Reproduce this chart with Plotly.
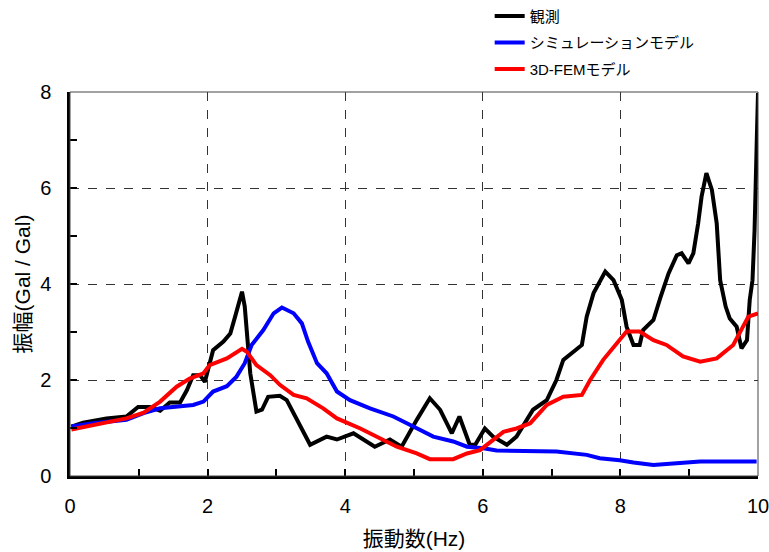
import plotly.graph_objects as go

# 観測 (observed)
obs_x = [0.02, 0.19, 0.53, 0.82, 0.99, 1.16, 1.31, 1.45, 1.60, 1.70, 1.79, 1.89, 1.96, 2.08, 2.23, 2.33, 2.40, 2.50, 2.54, 2.62, 2.71, 2.79, 2.88, 3.05, 3.15, 3.30, 3.49, 3.73, 3.88, 4.12, 4.43, 4.65, 4.82, 5.04, 5.23, 5.38, 5.55, 5.66, 5.81, 5.89, 6.03, 6.15, 6.35, 6.49, 6.64, 6.73, 6.93, 7.07, 7.17, 7.44, 7.51, 7.61, 7.78, 7.90, 8.02, 8.09, 8.19, 8.28, 8.33, 8.48, 8.58, 8.70, 8.82, 8.89, 8.99, 9.06, 9.13, 9.18, 9.25, 9.33, 9.40, 9.45, 9.53, 9.59, 9.69, 9.76, 9.84, 9.88, 9.92, 9.95, 9.98, 10.0]
obs_y = [1.03, 1.11, 1.20, 1.24, 1.44, 1.44, 1.36, 1.53, 1.53, 1.79, 2.10, 2.10, 1.96, 2.62, 2.80, 2.97, 3.32, 3.84, 3.53, 2.14, 1.34, 1.38, 1.65, 1.67, 1.58, 1.17, 0.65, 0.82, 0.76, 0.89, 0.61, 0.76, 0.61, 1.17, 1.62, 1.38, 0.89, 1.24, 0.65, 0.65, 0.99, 0.82, 0.65, 0.82, 1.17, 1.38, 1.58, 2.00, 2.42, 2.73, 3.32, 3.81, 4.26, 4.08, 3.67, 3.11, 2.73, 2.73, 3.04, 3.25, 3.71, 4.22, 4.60, 4.64, 4.43, 4.64, 5.26, 5.82, 6.31, 5.96, 5.26, 4.08, 3.53, 3.28, 3.11, 2.66, 2.83, 3.67, 4.08, 5.12, 6.86, 7.98]

# シミュレーションモデル (simulation)
sim_x = [0.02, 0.34, 0.82, 1.07, 1.31, 1.60, 1.79, 1.94, 2.08, 2.28, 2.42, 2.54, 2.64, 2.81, 2.96, 3.08, 3.25, 3.37, 3.46, 3.59, 3.73, 3.88, 4.07, 4.36, 4.70, 4.99, 5.28, 5.57, 5.77, 6.01, 6.20, 7.07, 7.51, 7.70, 7.99, 8.19, 8.48, 8.67, 9.16, 9.98]
sim_y = [1.03, 1.10, 1.17, 1.31, 1.41, 1.46, 1.48, 1.55, 1.76, 1.87, 2.07, 2.35, 2.73, 3.04, 3.39, 3.51, 3.39, 3.18, 2.80, 2.35, 2.14, 1.76, 1.58, 1.41, 1.24, 1.03, 0.82, 0.72, 0.61, 0.58, 0.53, 0.51, 0.44, 0.37, 0.33, 0.28, 0.23, 0.25, 0.30, 0.30]

# 3D-FEMモデル
fem_x = [0.02, 0.34, 0.82, 1.07, 1.31, 1.55, 1.74, 1.94, 2.03, 2.28, 2.50, 2.57, 2.71, 2.91, 3.05, 3.25, 3.44, 3.68, 3.88, 4.22, 4.51, 4.75, 5.04, 5.23, 5.57, 5.77, 5.96, 6.15, 6.30, 6.49, 6.69, 6.93, 7.17, 7.44, 7.56, 7.75, 7.90, 8.09, 8.28, 8.48, 8.67, 8.91, 9.16, 9.40, 9.64, 9.79, 9.86, 10.0]
fem_y = [0.97, 1.06, 1.20, 1.32, 1.55, 1.86, 2.03, 2.14, 2.31, 2.45, 2.65, 2.59, 2.31, 2.10, 1.90, 1.69, 1.62, 1.41, 1.20, 0.99, 0.78, 0.61, 0.47, 0.35, 0.35, 0.47, 0.54, 0.75, 0.92, 0.99, 1.10, 1.48, 1.65, 1.69, 2.00, 2.42, 2.69, 3.01, 3.01, 2.83, 2.73, 2.49, 2.38, 2.45, 2.73, 3.11, 3.32, 3.39]

FONT = "Liberation Sans, Arial, Noto Sans CJK JP, sans-serif"

fig = go.Figure()
fig.add_trace(go.Scatter(x=obs_x, y=obs_y, mode="lines", name="観測",
                         line=dict(color="black", width=4), legendgroup="a"))
fig.add_trace(go.Scatter(x=sim_x, y=sim_y, mode="lines", name="シミュレーションモデル",
                         line=dict(color="#0000ff", width=4), legendgroup="b"))
fig.add_trace(go.Scatter(x=fem_x, y=fem_y, mode="lines", name="3D-FEMモデル",
                         line=dict(color="#ff0000", width=4), legendgroup="c"))

axis_common = dict(
    showline=True, linecolor="black", linewidth=2.5,
    ticks="inside", ticklen=7, tickwidth=1.5, tickcolor="black",
    showgrid=True, gridcolor="#333333", griddash="dash", gridwidth=1,
    zeroline=False, automargin=False, ticklabeloverflow="allow",
    tickfont=dict(size=20, color="black", family=FONT),
    minor=dict(ticks="inside", ticklen=7, tickwidth=1.5, tickcolor="black", dtick=1, showgrid=False),
)

fig.update_xaxes(range=[0, 10], dtick=2, ticklabelstandoff=10,
                 title=dict(text="振動数(Hz)", font=dict(size=21, family=FONT), standoff=16), **axis_common)
fig.update_yaxes(range=[0, 8], dtick=2, ticklabelstandoff=12,
                 title=dict(text="振幅(Gal / Gal)", font=dict(size=21, family=FONT), standoff=4), **axis_common)

fig.add_shape(type="rect", xref="paper", yref="paper", x0=0, y0=0, x1=1, y1=1,
              line=dict(color="#444444", width=1), layer="above")

fig.update_layout(
    width=769, height=552,
    margin=dict(l=70, r=11, t=92, b=76, autoexpand=False),
    plot_bgcolor="white", paper_bgcolor="white",
    font=dict(family=FONT, color="black"),
    showlegend=True,
    legend=dict(x=0.61, y=1.24, xanchor="left", yanchor="top",
                font=dict(size=15, family=FONT), tracegroupgap=4,
                bgcolor="rgba(0,0,0,0)", itemwidth=30),
)

fig.write_html("out.html", config={"displayModeBar": False},
               post_script="document.body.style.margin='0';")
